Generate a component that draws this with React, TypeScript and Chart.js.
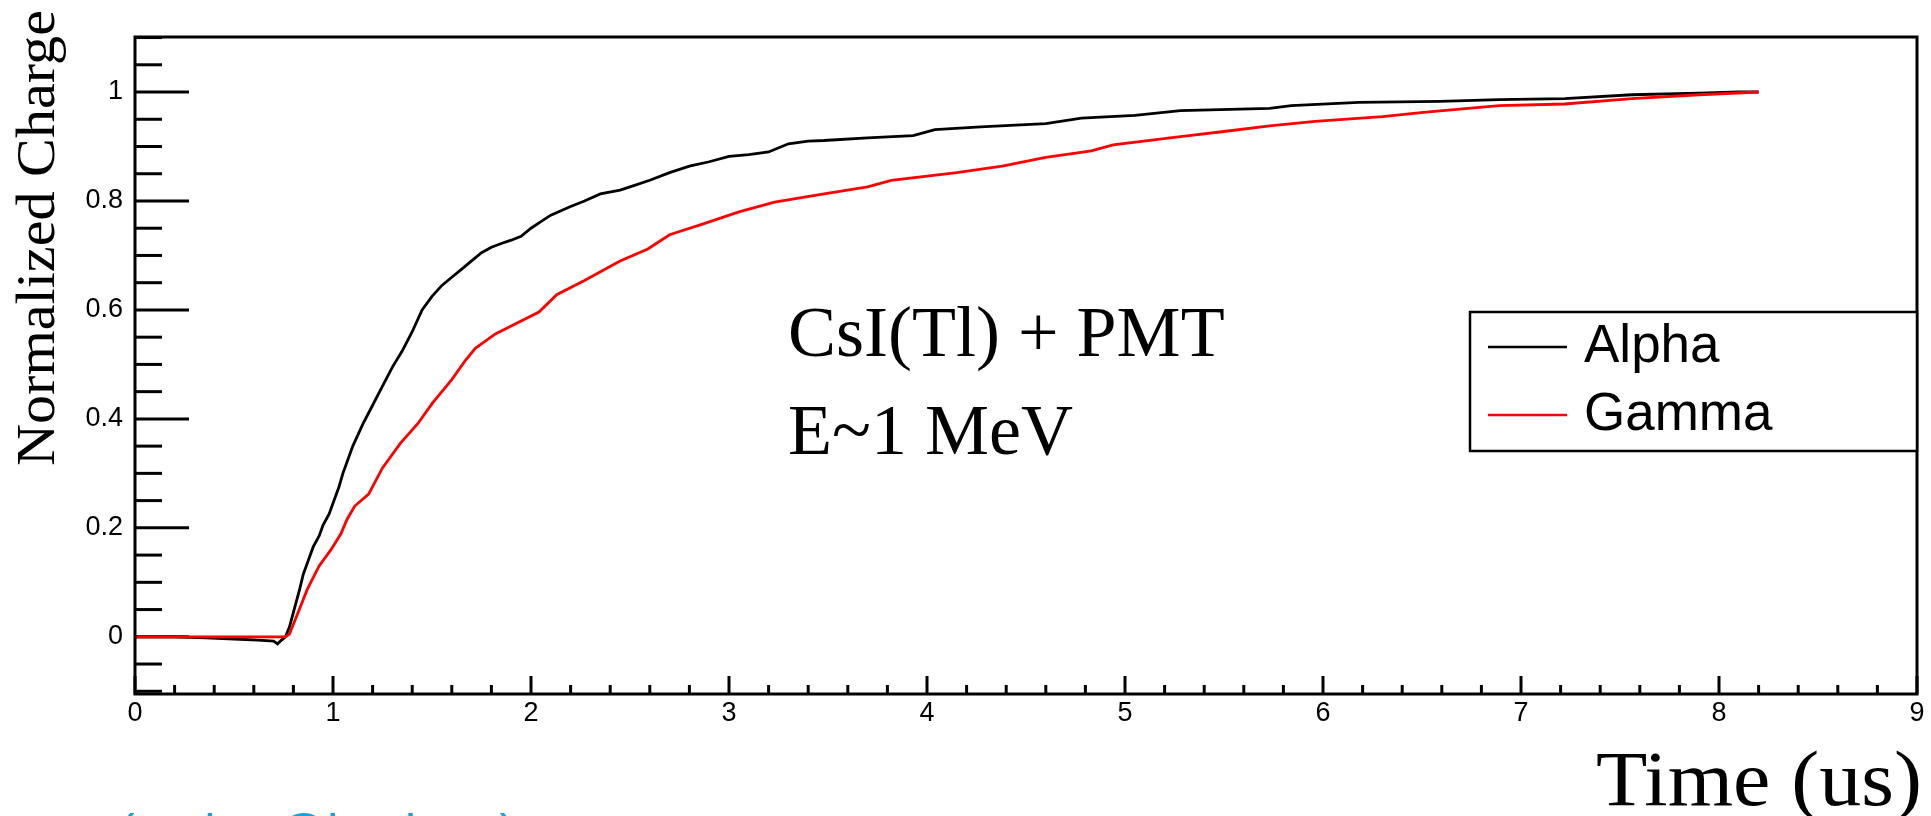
import React, { useEffect, useRef } from "react";
import { Chart, registerables } from "chart.js";
Chart.register(...registerables);

const seriesNames = ["Alpha", "Gamma"];
const seriesColors = ["#000000", "#ff0000"];

const alphaTime = [0, 0.2, 0.36, 0.5, 0.62, 0.7, 0.72, 0.74, 0.76, 0.78, 0.8, 0.83, 0.85, 0.88, 0.9, 0.93, 0.95, 0.98, 1.0, 1.03, 1.05, 1.08, 1.1, 1.15, 1.2, 1.25, 1.3, 1.35, 1.4, 1.45, 1.5, 1.55, 1.6, 1.65, 1.7, 1.75, 1.8, 1.85, 1.9, 1.95, 2.0, 2.05, 2.1, 2.2, 2.27, 2.35, 2.45, 2.5, 2.6, 2.7, 2.8, 2.9, 3.0, 3.1, 3.2, 3.3, 3.4, 3.48, 3.7, 3.93, 4.04, 4.27, 4.6, 4.78, 5.05, 5.28, 5.73, 5.84, 6.18, 6.59, 6.89, 7.22, 7.56, 7.9, 8.1, 8.2];
const alphaCharge = [0, 0, -0.002, -0.004, -0.006, -0.008, -0.013, -0.006, 0.0, 0.018, 0.045, 0.085, 0.115, 0.145, 0.165, 0.185, 0.205, 0.225, 0.245, 0.275, 0.3, 0.33, 0.35, 0.39, 0.425, 0.46, 0.495, 0.525, 0.56, 0.6, 0.625, 0.645, 0.66, 0.675, 0.69, 0.705, 0.715, 0.722, 0.728, 0.735, 0.75, 0.762, 0.774, 0.79, 0.8, 0.813, 0.82, 0.826, 0.838, 0.852, 0.864, 0.872, 0.882, 0.885, 0.89, 0.905, 0.91, 0.911, 0.916, 0.92, 0.931, 0.936, 0.942, 0.952, 0.957, 0.966, 0.97, 0.975, 0.981, 0.983, 0.986, 0.988, 0.995, 0.998, 1.0, 1.0];

const gammaTime = [0, 0.76, 0.78, 0.83, 0.87, 0.93, 0.99, 1.04, 1.07, 1.11, 1.18, 1.25, 1.34, 1.43, 1.5, 1.6, 1.67, 1.72, 1.82, 1.92, 2.04, 2.13, 2.27, 2.45, 2.59, 2.7, 2.87, 3.05, 3.23, 3.48, 3.7, 3.82, 4.15, 4.38, 4.6, 4.83, 4.94, 5.28, 5.51, 5.73, 5.96, 6.3, 6.52, 6.89, 7.22, 7.56, 7.9, 8.2];
const gammaCharge = [0, 0, 0.005, 0.05, 0.087, 0.13, 0.16, 0.189, 0.215, 0.24, 0.262, 0.31, 0.355, 0.392, 0.428, 0.472, 0.508, 0.53, 0.556, 0.574, 0.596, 0.628, 0.654, 0.69, 0.712, 0.738, 0.758, 0.78, 0.798, 0.813, 0.826, 0.838, 0.852, 0.864, 0.88, 0.892, 0.903, 0.918, 0.928, 0.938, 0.946, 0.955, 0.963, 0.975, 0.978, 0.988, 0.995, 1.0];

const xRange = [0, 9];
const yRange = [-0.105, 1.101];
const xTickValues = [0, 1, 2, 3, 4, 5, 6, 7, 8, 9];
const xTickLabels = ["0", "1", "2", "3", "4", "5", "6", "7", "8", "9"];
const yTickValues = [0, 0.2, 0.4, 0.6, 0.8, 1];
const yTickLabels = ["0", "0.2", "0.4", "0.6", "0.8", "1"];
const xMinorStep = 0.2;
const yMinorStep = 0.05;

const annotationLines = ["CsI(Tl) + PMT", "E~1 MeV"];
const xTitle = "Time (us)";
const yTitle = "Normalized Charge";
const footerText = "(author@institute)";

const SANS = '"Liberation Sans", Arial, Helvetica, sans-serif';
const SERIF = '"Liberation Serif", "Times New Roman", serif';

const rootStyle = {
  id: "rootStyle",
  beforeDatasetsDraw(chart: any) {
    const ctx = chart.ctx as CanvasRenderingContext2D;
    const { left, bottom } = chart.chartArea;
    const xs = chart.scales.x;
    const ys = chart.scales.y;
    ctx.save();
    ctx.strokeStyle = "#000";
    ctx.lineWidth = 3;
    ctx.lineCap = "butt";
    const nx = Math.round((xRange[1] - xRange[0]) / xMinorStep);
    for (let i = 0; i <= nx; i++) {
      const v = xRange[0] + i * xMinorStep;
      const px = xs.getPixelForValue(v);
      const len = i % 5 === 0 ? 18 : 9;
      ctx.beginPath();
      ctx.moveTo(px, bottom);
      ctx.lineTo(px, bottom - len);
      ctx.stroke();
    }
    for (let i = -4; i <= 24; i++) {
      const v = i * yMinorStep;
      if (v < yRange[0] || v > yRange[1]) continue;
      const py = ys.getPixelForValue(v);
      const len = i % 4 === 0 ? 54 : 27;
      ctx.beginPath();
      ctx.moveTo(left, py);
      ctx.lineTo(left + len, py);
      ctx.stroke();
    }
    ctx.restore();
  },
  afterDatasetsDraw(chart: any) {
    const ctx = chart.ctx as CanvasRenderingContext2D;
    const { left, right, top, bottom } = chart.chartArea;
    ctx.save();
    ctx.strokeStyle = "#000";
    ctx.lineWidth = 3;
    ctx.strokeRect(left, top, right - left, bottom - top);

    // legend box
    ctx.fillStyle = "#fff";
    ctx.fillRect(1470, 312, right - 1470, 139);
    ctx.lineWidth = 2.5;
    ctx.strokeRect(1470, 312, right - 1470, 139);
    const legY = [347, 415];
    const legBase = [362, 430];
    ctx.font = `53px ${SANS}`;
    ctx.textAlign = "left";
    ctx.textBaseline = "alphabetic";
    chart.data.datasets.forEach((ds: any, i: number) => {
      ctx.strokeStyle = ds.borderColor;
      ctx.lineWidth = 2.5;
      ctx.beginPath();
      ctx.moveTo(1488, legY[i]);
      ctx.lineTo(1567, legY[i]);
      ctx.stroke();
      ctx.fillStyle = "#000";
      ctx.fillText(ds.label, 1584, legBase[i]);
    });

    ctx.fillStyle = "#000";
    ctx.font = `72px ${SERIF}`;
    ctx.fillText(annotationLines[0], 788, 356);
    ctx.fillText(annotationLines[1], 788, 454);
    ctx.restore();
  },
  afterDraw(chart: any) {
    const ctx = chart.ctx as CanvasRenderingContext2D;
    ctx.save();
    ctx.fillStyle = "#000";
    ctx.textBaseline = "alphabetic";
    ctx.font = `79px ${SERIF}`;
    ctx.textAlign = "left";
    const tw = ctx.measureText(xTitle).width;
    const targetW = 326;
    ctx.translate(1922 - targetW, 805);
    ctx.scale(targetW / tw, 1);
    ctx.fillText(xTitle, 0, 0);
    ctx.restore();

    ctx.save();
    ctx.fillStyle = "#000";
    ctx.textBaseline = "alphabetic";
    ctx.translate(54, 238);
    ctx.rotate(-Math.PI / 2);
    ctx.font = `54px ${SERIF}`;
    const w = ctx.measureText(yTitle).width;
    ctx.scale(456 / w, 1);
    ctx.textAlign = "center";
    ctx.fillText(yTitle, 0, 0);
    ctx.restore();

    ctx.save();
    ctx.fillStyle = "#1a9fe0";
    ctx.font = `50px ${SANS}`;
    ctx.textAlign = "left";
    ctx.textBaseline = "alphabetic";
    ctx.fillText(footerText, 118, 849);
    ctx.restore();
  },
};

export default function App() {
  const ref = useRef<HTMLCanvasElement | null>(null);
  useEffect(() => {
    if (!ref.current) return;
    const toPts = (xs: number[], ys: number[]) => xs.map((x, i) => ({ x, y: ys[i] }));
    const chart = new Chart(ref.current, {
      type: "line",
      data: {
        datasets: [
          {
            label: seriesNames[0],
            data: toPts(alphaTime, alphaCharge),
            borderColor: seriesColors[0],
            borderWidth: 2.8,
            pointRadius: 0,
            tension: 0,
            fill: false,
            order: 2,
          },
          {
            label: seriesNames[1],
            data: toPts(gammaTime, gammaCharge),
            borderColor: seriesColors[1],
            borderWidth: 2.8,
            pointRadius: 0,
            tension: 0,
            fill: false,
            order: 1,
          },
        ],
      },
      options: {
        responsive: false,
        animation: false,
        devicePixelRatio: 1,
        layout: { padding: { top: 37, right: 14, left: 0, bottom: 0 } },
        plugins: { legend: { display: false }, tooltip: { enabled: false }, title: { display: false } },
        scales: {
          x: {
            type: "linear",
            min: xRange[0],
            max: xRange[1],
            grid: { display: false, drawTicks: false },
            border: { display: false },
            afterFit: (s: any) => {
              s.height = 122;
            },
            afterBuildTicks: (s: any) => {
              s.ticks = xTickValues.map((v) => ({ value: v }));
            },
            ticks: {
              autoSkip: false,
              maxRotation: 0,
              minRotation: 0,
              padding: 6,
              color: "#000",
              font: { family: SANS, size: 27, lineHeight: 1 },
              callback: (v: any) => {
                const i = xTickValues.indexOf(Number(v));
                return i >= 0 ? xTickLabels[i] : "";
              },
            },
          },
          y: {
            type: "linear",
            min: yRange[0],
            max: yRange[1],
            grid: { display: false, drawTicks: false },
            border: { display: false },
            afterFit: (s: any) => {
              s.width = 135;
            },
            afterBuildTicks: (s: any) => {
              s.ticks = yTickValues.map((v) => ({ value: v }));
            },
            ticks: {
              autoSkip: false,
              padding: 12,
              color: "#000",
              font: { family: SANS, size: 27, lineHeight: 1 },
              callback: (v: any) => {
                const i = yTickValues.findIndex((t) => Math.abs(t - Number(v)) < 1e-9);
                return i >= 0 ? yTickLabels[i] : "";
              },
            },
          },
        },
      },
      plugins: [rootStyle],
    });
    return () => chart.destroy();
  }, []);
  return (
    <div style={{ position: "fixed", left: 0, top: 0, width: 1931, height: 816, background: "#fff", overflow: "hidden" }}>
      <canvas ref={ref} width={1931} height={816} style={{ display: "block", width: 1931, height: 816 }} />
    </div>
  );
}
